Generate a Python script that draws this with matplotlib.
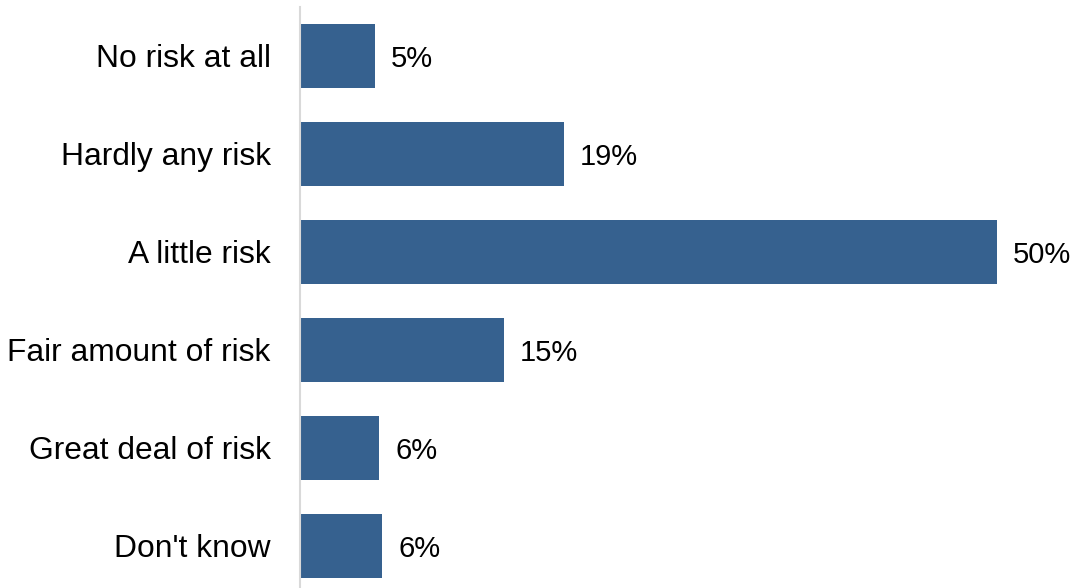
import matplotlib.pyplot as plt

# Data
categories = ["No risk at all", "Hardly any risk", "A little risk",
              "Fair amount of risk", "Great deal of risk", "Don't know"]
values = [5.4, 18.9, 50.0, 14.6, 5.7, 5.9]
labels = ["5%", "19%", "50%", "15%", "6%", "6%"]

plt.rcParams['font.family'] = ['Liberation Sans', 'DejaVu Sans']

fig = plt.figure(figsize=(10.74, 5.88), dpi=100)
ax = fig.add_axes([300 / 1074, 0, 774 / 1074, 581 / 588])

y = list(range(len(categories)))
ax.barh(y, values, height=0.66, color='#36618f')

# value labels
for yi, v, lab in zip(y, values, labels):
    ax.annotate(lab, (v, yi), xytext=(11.5, 0), textcoords='offset points',
                ha='left', va='center_baseline', fontsize=21, color='black')

ax.set_yticks(y)
ax.set_yticklabels(categories, fontsize=22.9)
ax.set_ylim(5.43, -0.5)
ax.set_xlim(0, 55.5)
ax.set_xticks([])
ax.tick_params(axis='y', length=0, pad=21)

for side in ['top', 'right', 'bottom']:
    ax.spines[side].set_visible(False)
ax.spines['left'].set_color('#d9d9d9')
ax.spines['left'].set_linewidth(1.5)

fig.savefig('out.png', dpi=100)
